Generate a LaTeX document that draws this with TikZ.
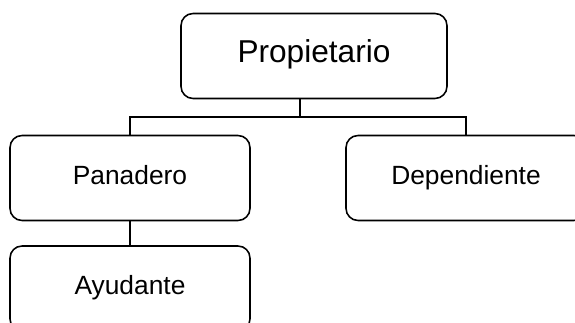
\documentclass[tikz,border=0pt]{standalone}
\usepackage{fontspec}
\setmainfont{Liberation Sans}
\usetikzlibrary{positioning}

\begin{document}
\begin{tikzpicture}[x=0.02cm, y=-0.02cm, line width=0.9pt,
    puesto/.style={draw, rounded corners=0.24cm, align=center,
        minimum width=4.8cm, minimum height=1.7cm, inner sep=0pt,
        text height=0.72em, text depth=0pt,
        font=\fontsize{15}{17}\selectfont},
    jefe/.style={puesto, minimum width=5.32cm, minimum height=1.7cm,
        font=\fontsize{18}{20}\selectfont}]
    \useasboundingbox (0, 0) rectangle (575, 323);
    \clip (0, 0) rectangle (575, 323);
    \node[jefe] (propietario) at (314, 56) {Propietario};
    \node[puesto] (panadero) at (130, 178) {Panadero};
    \node[puesto] (dependiente) at (466, 178) {Dependiente};
    \node[puesto] (ayudante) at (130, 288.5) {Ayudante};
    \coordinate (rama) at (300, 117);
    \draw
    (propietario.south -| rama) -- (rama)
    (panadero.north) |- (rama) -| (dependiente.north)
    (panadero.south) -- (ayudante.north);
\end{tikzpicture}
\end{document}
